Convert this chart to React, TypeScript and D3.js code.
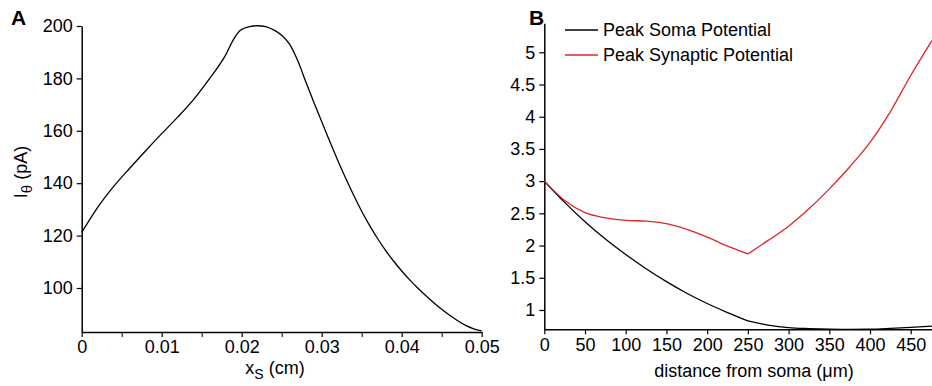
import React, { useEffect, useRef } from "react";
import * as d3 from "d3";

// Panel A: threshold current vs synapse location
const xsA = [0, 0.002, 0.004, 0.006, 0.008, 0.01, 0.012, 0.014, 0.016, 0.018, 0.019, 0.0198, 0.021, 0.022, 0.023, 0.024, 0.025, 0.026, 0.027, 0.028, 0.029, 0.03, 0.031, 0.032, 0.033, 0.034, 0.035, 0.036, 0.037, 0.038, 0.039, 0.04, 0.041, 0.042, 0.043, 0.044, 0.045, 0.046, 0.047, 0.048, 0.049, 0.05];
const iTheta = [121.2, 130.8, 138.8, 145.7, 152.4, 158.9, 165.2, 172, 180, 189, 195, 198.3, 199.8, 200.1, 199.8, 198.5, 196.5, 193, 186.8, 178.8, 171, 163.5, 156, 148.8, 141.9, 135.4, 129.3, 123.8, 118.8, 114.3, 110.2, 106.5, 103.1, 100.0, 97.1, 94.4, 91.9, 89.6, 87.5, 85.7, 84.4, 83.6];
const xTicksA = [0, 0.01, 0.02, 0.03, 0.04, 0.05];
const xTickLabelsA = ["0", "0.01", "0.02", "0.03", "0.04", "0.05"];
const xMinorA = [0.005, 0.015, 0.025, 0.035, 0.045];
const yTicksA = [100, 120, 140, 160, 180, 200];

// Panel B: peak potentials vs distance from soma
const distB = [0, 25, 50, 75, 100, 125, 150, 175, 200, 225, 250, 275, 300, 325, 350, 375, 400, 425, 450, 476];
const somaB = [3.0, 2.67, 2.37, 2.1, 1.86, 1.64, 1.44, 1.26, 1.1, 0.96, 0.83, 0.765, 0.725, 0.71, 0.702, 0.7, 0.702, 0.714, 0.73, 0.75];
const synB = [3.0, 2.7, 2.51, 2.43, 2.39, 2.38, 2.34, 2.25, 2.13, 1.99, 1.87, 2.08, 2.3, 2.57, 2.88, 3.22, 3.6, 4.08, 4.64, 5.18];
const xTicksB = [0, 50, 100, 150, 200, 250, 300, 350, 400, 450];
const yTicksB = [1, 1.5, 2, 2.5, 3, 3.5, 4, 4.5, 5];
const legendLabels = ["Peak Soma Potential", "Peak Synaptic Potential"];
const kinkB = 250;

const FONT = "'Liberation Sans', Arial, sans-serif";
const FS = 18;
const RED = "#e0242b";

export default function App() {
  const ref = useRef<SVGSVGElement | null>(null);

  useEffect(() => {
    const svg = d3.select(ref.current);
    svg.selectAll("*").remove();

    // ---------- Panel A ----------
    const xA = d3.scaleLinear().domain([0, 0.05]).range([81.7, 481.7]);
    const yA = d3.scaleLinear().domain([83.2, 200]).range([332, 26]);
    const gA = svg.append("g");

    const axXA = gA.append("g").attr("transform", `translate(0,${332})`)
      .call(d3.axisBottom(xA).tickValues(xTicksA).tickFormat((_: any, i: number) => xTickLabelsA[i]).tickSize(5).tickSizeOuter(0).tickPadding(3));
    gA.append("g").attr("transform", `translate(0,${332})`)
      .call(d3.axisBottom(xA).tickValues(xMinorA).tickFormat(() => "").tickSize(5).tickSizeOuter(0))
      .select(".domain").remove();
    const axYA = gA.append("g").attr("transform", `translate(${81.7},0)`)
      .call(d3.axisLeft(yA).tickValues(yTicksA).tickSize(5).tickSizeOuter(0).tickPadding(4));

    const lineA = d3.line<number>().x((_, i) => xA(xsA[i])).y((d) => yA(d)).curve(d3.curveMonotoneX);
    gA.append("path").attr("d", lineA(iTheta) as string).attr("fill", "none").attr("stroke", "#000").attr("stroke-width", 1.3);

    // axis labels A
    const xl = gA.append("text").attr("x", 275).attr("y", 374).attr("text-anchor", "middle").attr("font-family", FONT).attr("font-size", FS);
    xl.append("tspan").text("x");
    xl.append("tspan").attr("font-size", 14).attr("dy", 5).text("S");
    xl.append("tspan").attr("dy", -5).text(" (cm)");

    const yl = gA.append("text").attr("transform", `translate(27,172) rotate(-90)`).attr("text-anchor", "middle").attr("font-family", FONT).attr("font-size", FS);
    yl.append("tspan").text("I");
    yl.append("tspan").attr("font-size", 15).attr("dy", 5).text("θ");
    yl.append("tspan").attr("dy", -5).text(" (pA)");

    gA.append("text").attr("x", 11).attr("y", 25).attr("font-family", FONT).attr("font-size", 21).attr("font-weight", "bold").text("A");

    // ---------- Panel B ----------
    const xB = d3.scaleLinear().domain([0, 476]).range([544.3, 931.9]);
    const yB = d3.scaleLinear().domain([0.7, 5.45]).range([329.3, 23.3]);
    const gB = svg.append("g");

    const axXB = gB.append("g").attr("transform", `translate(0,${329.3})`)
      .call(d3.axisBottom(xB).tickValues(xTicksB).tickFormat(d3.format("d") as any).tickSize(5).tickSizeOuter(0).tickPadding(4));
    const axYB = gB.append("g").attr("transform", `translate(${544.3},0)`)
      .call(d3.axisLeft(yB).tickValues(yTicksB).tickFormat((d: any) => String(d)).tickSize(5).tickSizeOuter(0).tickPadding(4));

    const drawSplit = (vals: number[], color: string) => {
      const idx = distB.map((_, i) => i);
      const left = idx.filter((i) => distB[i] <= kinkB);
      const right = idx.filter((i) => distB[i] >= kinkB);
      const ln = d3.line<number>().x((i) => xB(distB[i])).y((i) => yB(vals[i])).curve(d3.curveMonotoneX);
      [left, right].forEach((seg) => {
        gB.append("path").attr("d", ln(seg) as string).attr("fill", "none").attr("stroke", color).attr("stroke-width", 1.3);
      });
    };
    drawSplit(somaB, "#000");
    drawSplit(synB, RED);

    gB.append("text").attr("x", 754).attr("y", 377).attr("text-anchor", "middle").attr("font-family", FONT).attr("font-size", FS).text("distance from soma (μm)");

    // legend
    const legColors = ["#000", RED];
    legendLabels.forEach((lab, i) => {
      const y = 30 + i * 25;
      gB.append("line").attr("x1", 565).attr("x2", 598).attr("y1", y).attr("y2", y).attr("stroke", legColors[i]).attr("stroke-width", 1.3);
      gB.append("text").attr("x", 603).attr("y", y).attr("dy", "0.35em").attr("font-family", FONT).attr("font-size", FS).text(lab);
    });

    gB.append("text").attr("x", 529).attr("y", 25).attr("font-family", FONT).attr("font-size", 21).attr("font-weight", "bold").text("B");

    // style axes
    [axXA, axYA, axXB, axYB].forEach((ax) => {
      ax.selectAll("text").attr("font-family", FONT).attr("font-size", FS).attr("fill", "#000");
      ax.select(".domain").attr("stroke-width", 1.5);
      ax.selectAll(".tick line").attr("stroke-width", 1.2);
    });
    svg.selectAll(".tick line").attr("stroke", "#000");
  }, []);

  return (
    <svg ref={ref} width={932} height={386} style={{ position: "absolute", left: 0, top: 0, background: "#fff" }} />
  );
}
